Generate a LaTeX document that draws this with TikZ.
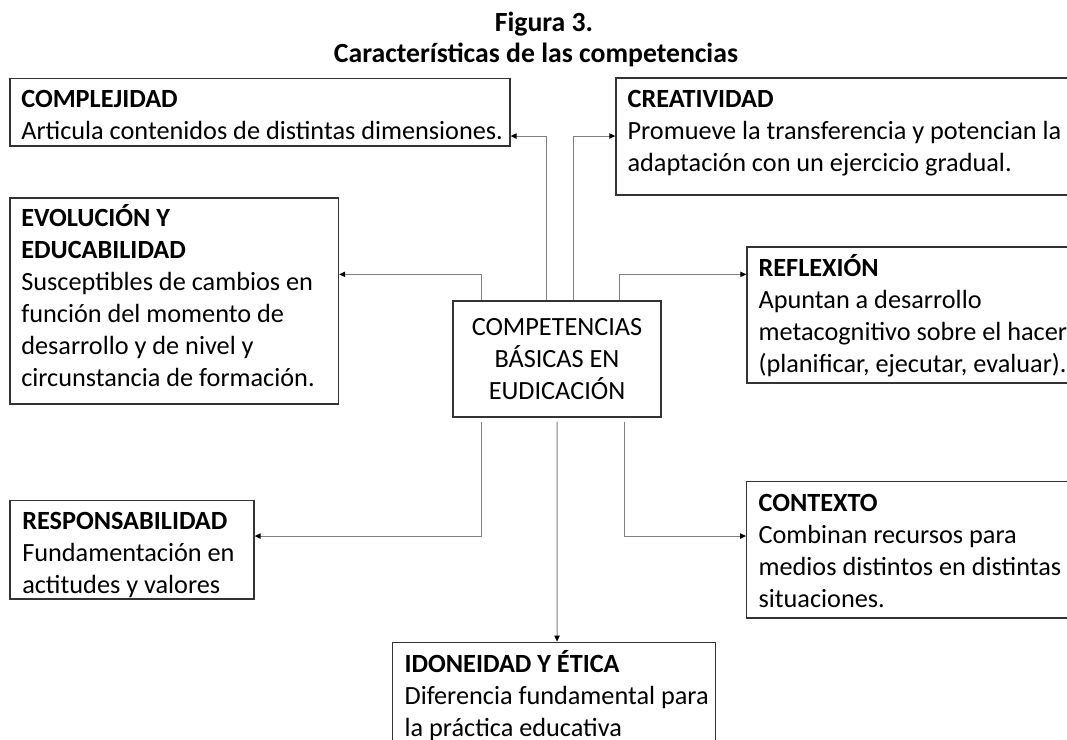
\documentclass[tikz,border=0pt]{standalone}
\usepackage{fontspec}
\setmainfont{Carlito}
\usetikzlibrary{arrows.meta,calc,fit}
\newcommand\myBodyFont{\fontsize{19.7}{24}\selectfont}
\newcommand\myTitleFont{\fontsize{20.8}{23.25}\selectfont\bfseries}
\definecolor{boxcol}{HTML}{333333}
\definecolor{conncol}{HTML}{808080}
\begin{document}
\begin{tikzpicture}[x=0.75pt,y=-0.75pt,
  boxst/.style={draw=boxcol, line width=1pt, inner sep=0pt},
  txt/.style={anchor=north west, inner sep=0pt, align=left, font=\myBodyFont},
  ctxt/.style={anchor=north, inner sep=0pt, align=center, font=\myBodyFont},
  conn/.style={draw=conncol, line width=0.8pt, -{Triangle[length=4.5pt,width=4pt,color=black]}}]
\useasboundingbox (0,0) rectangle (1067,739);
\clip (0,0) rectangle (1067,739);
\fill[white] (0,0) rectangle (1067,739);

% title
\node[font=\myTitleFont, anchor=base, inner sep=0pt] (t1) at (544,31.7) {Figura 3.};
\node[font=\myTitleFont, anchor=base, inner sep=0pt] (t2) at (536,62.5) {Características de las competencias};

% boxes
\node[boxst, fit={(10,78.3) (510,146)}] (comp) {};
\node[boxst, fit={(616,78) (1075,195)}] (crea) {};
\node[boxst, fit={(10,198) (338.5,404)}] (evo) {};
\node[boxst, fit={(747,247) (1075,383)}] (refl) {};
\node[boxst, fit={(453,301) (661,417)}] (center) {};
\node[boxst, fit={(10,500.7) (254,599)}] (resp) {};
\node[boxst, fit={(746.7,481.7) (1075,618)}] (cont) {};
\node[boxst, fit={(392.3,642.3) (715.7,760)}] (idon) {};

% texts
\node[txt] (compT) at ($(comp.north west)+(11.7,7.6)$) {\strut\textbf{COMPLEJIDAD}\\Articula contenidos de distintas dimensiones.};
\node[txt] (creaT) at ($(crea.north west)+(12,7.3)$) {\strut\textbf{CREATIVIDAD}\\Promueve la transferencia y potencian la\\adaptación con un ejercicio gradual.};
\node[txt] (evoT) at ($(evo.north west)+(11.7,6.3)$) {\strut\textbf{EVOLUCIÓN Y}\\\textbf{EDUCABILIDAD}\\Susceptibles de cambios en\\función del momento de\\desarrollo y de nivel y\\circunstancia de formación.};
\node[txt] (reflT) at ($(refl.north west)+(12,7.3)$) {\strut\textbf{REFLEXIÓN}\\Apuntan a desarrollo\\metacognitivo sobre el hacer\\(planificar, ejecutar, evaluar).};
\node[txt] (respT) at ($(resp.north west)+(12.7,6.3)$) {\strut\textbf{RESPONSABILIDAD}\\Fundamentación en\\actitudes y valores};
\node[txt] (contT) at ($(cont.north west)+(12.3,7.6)$) {\strut\textbf{CONTEXTO}\\Combinan recursos para\\medios distintos en distintas\\situaciones.};
\node[txt] (idonT) at ($(idon.north west)+(12.7,8)$) {\strut\textbf{IDONEIDAD Y ÉTICA}\\Diferencia fundamental para\\la práctica educativa};
\node[ctxt] (centerT) at (557,313.1) {\strut COMPETENCIAS\\BÁSICAS EN\\EUDICACIÓN};

% connectors
\draw[conn] ($(center.north west)+(93.7,0)$) |- ($(comp.north east)+(0,58.4)$);
\draw[conn] ($(center.north west)+(121.3,0)$) |- ($(crea.north west)+(0,58.7)$);
\draw[conn] ($(center.north west)+(28.7,0)$) |- ($(evo.north east)+(0,77)$);
\draw[conn] ($(center.north west)+(167,0)$) |- ($(refl.north west)+(0,28)$);
\draw[conn] ($(center.south west)+(28.7,4)$) |- ($(resp.north east)+(0,36)$);
\draw[conn] ($(center.south west)+(172,4)$) |- ($(cont.north west)+(0,55)$);
\draw[conn] ($(center.south west)+(104.7,4)$) -- ($(idon.north west)+(165.4,0)$);
\end{tikzpicture}
\end{document}
